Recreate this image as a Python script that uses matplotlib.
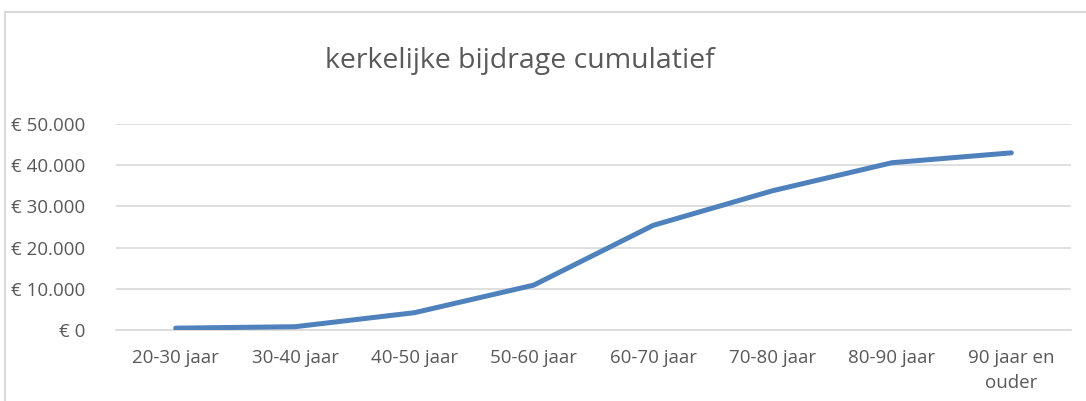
import matplotlib
matplotlib.use("Agg")
import matplotlib.pyplot as plt
from matplotlib.lines import Line2D
from matplotlib.ticker import FuncFormatter

categories = ["20-30 jaar", "30-40 jaar", "40-50 jaar", "50-60 jaar",
              "60-70 jaar", "70-80 jaar", "80-90 jaar", "90 jaar en\nouder"]
values = [450, 800, 4200, 10900, 25400, 33800, 40600, 43000]
yticks = [0, 10000, 20000, 30000, 40000, 50000]
title = "kerkelijke bijdrage cumulatief"

plt.rcParams['font.family'] = ['Open Sans', 'DejaVu Sans']
txt = '#595959'

fig = plt.figure(figsize=(10.86, 4.01), dpi=100)
ax = fig.add_axes([116/1086, 71/401, (1071-116)/1086, 206/401])

x = list(range(len(categories)))
ax.plot(x, values, color='#4F81BD', lw=3.6, solid_capstyle='round', solid_joinstyle='round', zorder=3)

ax.set_xlim(-0.5, len(categories) - 0.5)
ax.set_ylim(0, 50000)
ax.set_yticks(yticks)
ax.yaxis.set_major_formatter(FuncFormatter(lambda v, p: "€ " + f"{int(v):,}".replace(",", ".")))
ax.set_xticks(x)
ax.set_xticklabels(categories, fontsize=13.5, color=txt, linespacing=1.5)
ax.tick_params(axis='y', length=0, pad=22, labelsize=13.5, labelcolor=txt)
ax.tick_params(axis='x', length=0, pad=14)
ax.grid(axis='y', color='#d9d9d9', lw=1.2)
ax.set_axisbelow(True)
for s in ['top', 'right', 'left']:
    ax.spines[s].set_visible(False)
ax.spines['bottom'].set_color('#d9d9d9')
ax.spines['bottom'].set_linewidth(1.2)

fig.text(520/1086, 1 - 61/401, title, ha='center', va='center', fontsize=20.5, color=txt)

# chart frame (top and left edges visible)
fig.add_artist(Line2D([5/1086, 1], [1 - 12/401, 1 - 12/401], transform=fig.transFigure, color='#d9d9d9', lw=1.5))
fig.add_artist(Line2D([5/1086, 5/1086], [0, 1 - 12/401], transform=fig.transFigure, color='#d9d9d9', lw=1.5))

fig.savefig("out.png", dpi=100)
